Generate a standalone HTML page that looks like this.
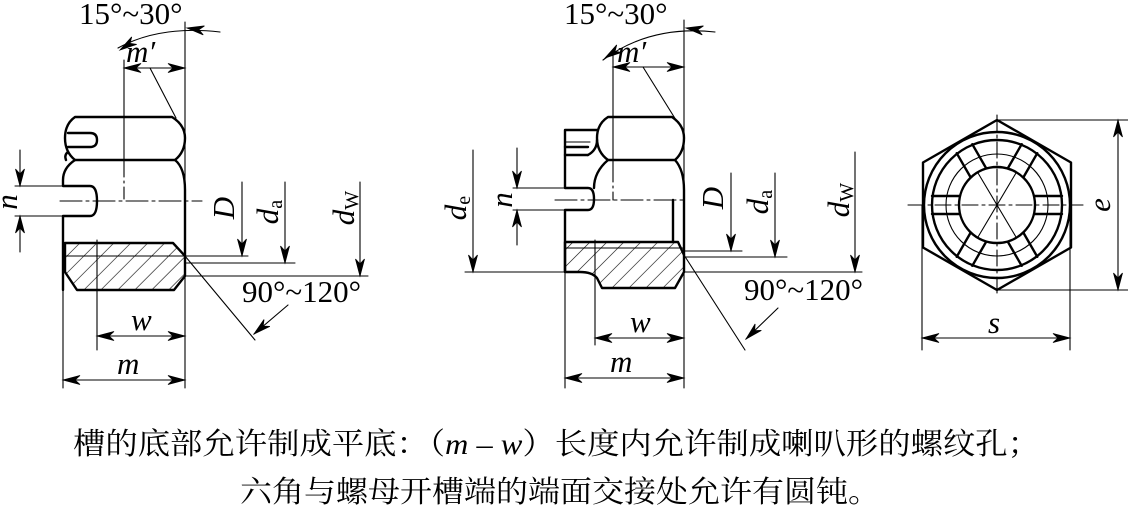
<!DOCTYPE html>
<html><head><meta charset="utf-8"><style>
html,body{margin:0;padding:0;background:#fff;}
svg{display:block;}
text{font-family:"Liberation Serif","Noto Serif CJK SC",serif;fill:#000;}
.cn{font-family:"Liberation Serif","Noto Serif CJK SC","Noto Sans CJK SC",serif;}
</style></head><body>
<svg width="1128" height="509" viewBox="0 0 1128 509" xmlns="http://www.w3.org/2000/svg" xmlns:xlink="http://www.w3.org/1999/xlink">
<defs>
<pattern id="h" width="12" height="12" patternUnits="userSpaceOnUse" patternTransform="rotate(45)"><line x1="0" y1="0" x2="0" y2="12" stroke="#000" stroke-width="1.2"/></pattern>
<path id="ar" d="M0,0 L-17,-4.5 L-12,0 L-17,4.5Z" fill="#000" stroke="#000" stroke-width="0.8"/>
</defs>
<g fill="none" stroke="#000" stroke-linecap="round" stroke-linejoin="round">
<!-- ============ LEFT NUT ============ -->
<g stroke-width="1.1">
<line x1="185" y1="22" x2="185" y2="388"/>
<line x1="63" y1="270" x2="63" y2="388"/>
<line x1="97" y1="240" x2="97" y2="350"/>
<line x1="124" y1="60" x2="124" y2="165"/>
<line x1="124" y1="165" x2="124" y2="200" stroke-dasharray="12,4,2,4"/>
<line x1="60" y1="201" x2="202" y2="201" stroke-dasharray="22,4,3,4"/>
<path d="M118,48 Q160,25 220,32" />
<line x1="124" y1="68" x2="185" y2="68"/>
<line x1="150" y1="68" x2="176" y2="118"/>
<line x1="20" y1="150" x2="20" y2="186"/>
<line x1="20" y1="252" x2="20" y2="216"/>
<line x1="15" y1="186" x2="63" y2="186"/>
<line x1="15" y1="216" x2="63" y2="216"/>
<line x1="242" y1="182" x2="242" y2="256"/>
<line x1="185" y1="256" x2="248" y2="256"/>
<line x1="285" y1="182" x2="285" y2="263"/>
<line x1="185" y1="263" x2="295" y2="263"/>
<line x1="360" y1="182" x2="360" y2="276"/>
<line x1="185" y1="276" x2="368" y2="276"/>
<line x1="185" y1="256" x2="255" y2="340"/>
<line x1="288" y1="305" x2="254" y2="334"/>
<line x1="97" y1="336" x2="185" y2="336"/>
<line x1="63" y1="380" x2="185" y2="380"/>
</g>
<g stroke-width="2.4">
<path d="M75,117 L172,117 Q185,125 185,138 Q185,152 175,160 L75,160 Q65,152 65,138 Q65,124 75,117Z"/>
<path d="M68,133 L90,133 Q97,133 97,140 Q97,147 90,147 L68,147"/>
<path d="M75,160 Q63,168 63,180 L63,186 L90,186 Q97,186 97,201 Q97,216 90,216 L63,216 L63,290"/>
<path d="M66,160 Q64,155 68,152"/>
<path d="M175,160 Q185,168 185,190 L185,256"/>
<path d="M65,243 L173,243 L185,256 L185,276 L174,290 L77,290 L65,272 Z" fill="url(#h)"/>
</g>
<line x1="65" y1="256" x2="185" y2="256" stroke-width="1"/>
<!-- ============ MIDDLE NUT ============ -->
<g stroke-width="1.1">
<line x1="684" y1="20" x2="684" y2="388"/>
<line x1="565" y1="272" x2="565" y2="388"/>
<line x1="595" y1="240" x2="595" y2="345"/>
<line x1="613" y1="55" x2="613" y2="170"/>
<line x1="613" y1="170" x2="613" y2="200" stroke-dasharray="12,4,2,4"/>
<line x1="555" y1="200" x2="685" y2="200" stroke-dasharray="22,4,3,4"/>
<path d="M603,60 Q650,25 715,32"/>
<line x1="613" y1="67" x2="684" y2="67"/>
<line x1="643" y1="67" x2="676" y2="120"/>
<line x1="473" y1="150" x2="473" y2="272"/>
<line x1="465" y1="272" x2="565" y2="272"/>
<line x1="517" y1="148" x2="517" y2="188"/>
<line x1="517" y1="245" x2="517" y2="210"/>
<line x1="513" y1="188" x2="565" y2="188"/>
<line x1="513" y1="210" x2="565" y2="210"/>
<line x1="731" y1="173" x2="731" y2="251"/>
<line x1="684" y1="251" x2="742" y2="251"/>
<line x1="775" y1="173" x2="775" y2="257"/>
<line x1="684" y1="257" x2="787" y2="257"/>
<line x1="855" y1="152" x2="855" y2="272"/>
<line x1="684" y1="272" x2="862" y2="272"/>
<line x1="684" y1="255" x2="745" y2="350"/>
<line x1="778" y1="308" x2="746" y2="339"/>
<line x1="595" y1="338" x2="684" y2="338"/>
<line x1="565" y1="378" x2="684" y2="378"/>
<line x1="565" y1="142" x2="590" y2="142"/>
</g>
<g stroke-width="2.4">
<path d="M608,117 L672,117 Q684,125 684,138 Q684,152 675,160 L608,160 Q597,152 597,138 Q597,124 608,117Z"/>
<path d="M597,130 L565,130 L565,188 L588,188 Q594,188 594,199 Q594,210 588,210 L565,210 L565,272"/>
<line x1="565" y1="147" x2="588" y2="147"/>
<path d="M588,155 Q597,150 597,140"/>
<path d="M565,155 L588,155"/>
<path d="M608,160 Q594,172 594,188"/>
<path d="M675,160 Q684,170 684,190 L684,255"/>
<path d="M673,200 L673,242"/>
<path d="M565,242 L678,242 L684,255 L684,272 L675,288 L602,288 L597,278 Q592,272 580,272 L565,272 Z" fill="url(#h)"/>
</g>
<line x1="565" y1="248" x2="684" y2="248" stroke-width="1"/>
<!-- ============ HEX VIEW ============ -->
<g stroke-width="1.1">
<line x1="997" y1="120" x2="1128" y2="120"/>
<line x1="997" y1="290" x2="1128" y2="290"/>
<line x1="1118" y1="120" x2="1118" y2="290"/>
<line x1="922" y1="205" x2="922" y2="350"/>
<line x1="1070" y1="205" x2="1070" y2="350"/>
<line x1="922" y1="338" x2="1070" y2="338"/>
<line x1="908" y1="205" x2="1083" y2="205" stroke-dasharray="16,4,3,4"/>
<line x1="997" y1="115" x2="997" y2="295" stroke-dasharray="16,4,3,4"/>
<circle cx="997" cy="205" r="51"/>
<line x1="978" y1="173" x2="1016" y2="237"/>
<line x1="1016" y1="173" x2="978" y2="237"/>
</g>
<g stroke-width="2.4">
<polygon points="997,120 1071,162.5 1071,247.5 997,290 923,247.5 923,162.5"/>
<circle cx="997" cy="205" r="73"/>
<circle cx="997" cy="205" r="65"/>
<circle cx="997" cy="205" r="38"/>
<g id="sl">
<line x1="1035" y1="196" x2="1062" y2="196"/>
<line x1="1035" y1="214" x2="1062" y2="214"/>
</g>
<use href="#sl" xlink:href="#sl" transform="rotate(60 997 205)"/>
<use href="#sl" xlink:href="#sl" transform="rotate(120 997 205)"/>
<use href="#sl" xlink:href="#sl" transform="rotate(180 997 205)"/>
<use href="#sl" xlink:href="#sl" transform="rotate(240 997 205)"/>
<use href="#sl" xlink:href="#sl" transform="rotate(300 997 205)"/>
</g>
</g>
<!-- arrowheads -->
<g>
<use href="#ar" xlink:href="#ar" transform="translate(124,68) rotate(180)"/>
<use href="#ar" xlink:href="#ar" transform="translate(185,68)"/>
<use href="#ar" xlink:href="#ar" transform="translate(20,186) rotate(90)"/>
<use href="#ar" xlink:href="#ar" transform="translate(20,216) rotate(-90)"/>
<use href="#ar" xlink:href="#ar" transform="translate(242,256) rotate(90)"/>
<use href="#ar" xlink:href="#ar" transform="translate(285,263) rotate(90)"/>
<use href="#ar" xlink:href="#ar" transform="translate(360,276) rotate(90)"/>
<use href="#ar" xlink:href="#ar" transform="translate(97,336) rotate(180)"/>
<use href="#ar" xlink:href="#ar" transform="translate(185,336)"/>
<use href="#ar" xlink:href="#ar" transform="translate(63,380) rotate(180)"/>
<use href="#ar" xlink:href="#ar" transform="translate(185,380)"/>
<use href="#ar" xlink:href="#ar" transform="translate(120,50) rotate(146.5)"/>
<use href="#ar" xlink:href="#ar" transform="translate(187,28) rotate(188)"/>
<use href="#ar" xlink:href="#ar" transform="translate(254,334) rotate(139.5)"/>
<use href="#ar" xlink:href="#ar" transform="translate(613,67) rotate(180)"/>
<use href="#ar" xlink:href="#ar" transform="translate(684,67)"/>
<use href="#ar" xlink:href="#ar" transform="translate(473,272) rotate(90)"/>
<use href="#ar" xlink:href="#ar" transform="translate(517,188) rotate(90)"/>
<use href="#ar" xlink:href="#ar" transform="translate(517,210) rotate(-90)"/>
<use href="#ar" xlink:href="#ar" transform="translate(731,251) rotate(90)"/>
<use href="#ar" xlink:href="#ar" transform="translate(775,257) rotate(90)"/>
<use href="#ar" xlink:href="#ar" transform="translate(855,272) rotate(90)"/>
<use href="#ar" xlink:href="#ar" transform="translate(595,338) rotate(180)"/>
<use href="#ar" xlink:href="#ar" transform="translate(684,338)"/>
<use href="#ar" xlink:href="#ar" transform="translate(565,378) rotate(180)"/>
<use href="#ar" xlink:href="#ar" transform="translate(684,378)"/>
<use href="#ar" xlink:href="#ar" transform="translate(605,58) rotate(146.5)"/>
<use href="#ar" xlink:href="#ar" transform="translate(686,28) rotate(188)"/>
<use href="#ar" xlink:href="#ar" transform="translate(746,339) rotate(136)"/>
<use href="#ar" xlink:href="#ar" transform="translate(1118,120) rotate(-90)"/>
<use href="#ar" xlink:href="#ar" transform="translate(1118,290) rotate(90)"/>
<use href="#ar" xlink:href="#ar" transform="translate(922,338) rotate(180)"/>
<use href="#ar" xlink:href="#ar" transform="translate(1070,338)"/>
</g>
<!-- labels -->
<g font-size="31">
<text x="79" y="24">15°~30°</text>
<text x="126" y="62" font-style="italic">m′</text>
<text x="242" y="302">90°~120°</text>
<text x="131" y="330" font-style="italic">w</text>
<text x="117" y="374" font-style="italic">m</text>
<text x="564" y="24">15°~30°</text>
<text x="617" y="62" font-style="italic">m′</text>
<text x="744" y="300">90°~120°</text>
<text x="630" y="332" font-style="italic">w</text>
<text x="610" y="372" font-style="italic">m</text>
<text x="988" y="333" font-style="italic">s</text>
</g>
<g font-size="31" font-style="italic">
<text transform="translate(17,202) rotate(-90)" text-anchor="middle">n</text>
<text transform="translate(234,208) rotate(-90)" text-anchor="middle">D</text>
<text transform="translate(278,212) rotate(-90)" text-anchor="middle">d<tspan font-size="20" font-style="normal" dy="4">a</tspan></text>
<text transform="translate(354,208) rotate(-90)" text-anchor="middle">d<tspan font-size="20" font-style="normal" dy="4">W</tspan></text>
<text transform="translate(466,208) rotate(-90)" text-anchor="middle">d<tspan font-size="20" font-style="normal" dy="4">e</tspan></text>
<text transform="translate(512,200) rotate(-90)" text-anchor="middle">n</text>
<text transform="translate(723,198) rotate(-90)" text-anchor="middle">D</text>
<text transform="translate(768,202) rotate(-90)" text-anchor="middle">d<tspan font-size="20" font-style="normal" dy="4">a</tspan></text>
<text transform="translate(849,200) rotate(-90)" text-anchor="middle">d<tspan font-size="20" font-style="normal" dy="4">W</tspan></text>
<text transform="translate(1110,205) rotate(-90)" text-anchor="middle">e</text>
</g>
<text class="cn" x="73" y="454" font-size="30" textLength="967" lengthAdjust="spacingAndGlyphs">槽的底部允许制成平底：（<tspan font-style="italic">m</tspan> – <tspan font-style="italic">w</tspan>）长度内允许制成喇叭形的螺纹孔；</text>
<text class="cn" x="240" y="502" font-size="30" textLength="640" lengthAdjust="spacingAndGlyphs">六角与螺母开槽端的端面交接处允许有圆钝。</text>
</svg>
</body></html>
